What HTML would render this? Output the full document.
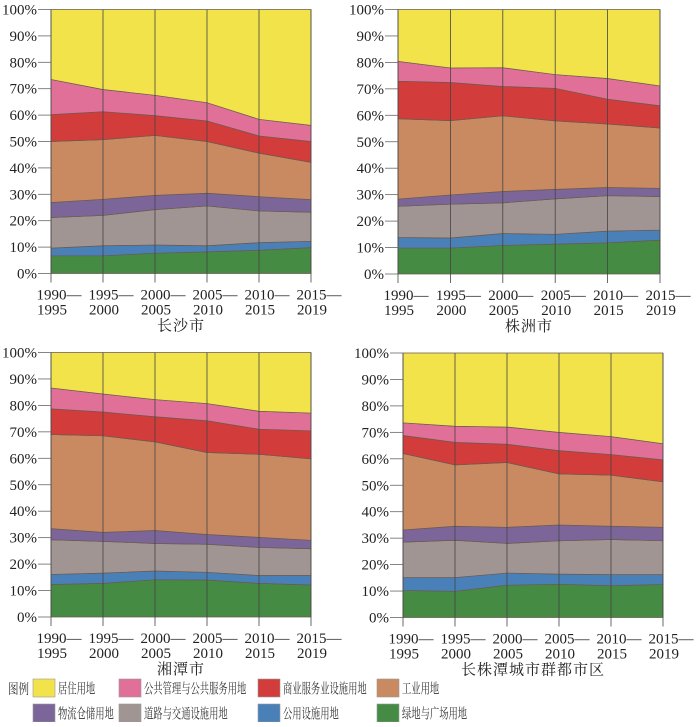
<!DOCTYPE html>
<html><head><meta charset="utf-8">
<style>
body{margin:0;background:#fff;}
svg text{font-family:"Liberation Serif","Noto Serif CJK SC",serif;}
</style></head>
<body>
<svg id="c" width="700" height="722" xmlns="http://www.w3.org/2000/svg"></svg>
<script>
const periods=[["1990—","1995"],["1995—","2000"],["2000—","2005"],["2005—","2010"],["2010—","2015"],["2015—","2019"]];
const yTicks=["0%","10%","20%","30%","40%","50%","60%","70%","80%","90%","100%"];
const catNames=["绿地与广场用地","公用设施用地","道路与交通设施用地","物流仓储用地","工业用地","商业服务业设施用地","公共管理与公共服务用地","居住用地"];
const catColors=["#468b44","#4a80b8","#a09592","#7c6699","#c98a62","#d23c3a","#e07098","#f2e34a"];
const cityNames=["长沙市","株洲市","湘潭市","长株潭城市群都市区"];
// shares (%) per category bottom->top (居住 = remainder)
const changsha=[[6.7,6.7,7.7,8.2,8.8,9.8],[2.9,3.8,3.1,2.3,2.9,2.4],[11.6,11.5,13.4,15.1,12.0,11.0],[5.7,6.1,5.4,4.8,5.4,4.8],[23.1,22.6,22.7,19.6,16.5,14.1],[10.2,10.6,7.5,7.8,6.5,7.9],[13.3,8.4,7.7,6.9,6.3,6.1]];
const zhuzhou=[[9.8,9.8,10.8,11.3,11.8,12.8],[4.0,3.8,4.5,3.7,4.4,3.8],[11.8,12.8,11.6,13.4,13.4,12.7],[2.7,3.5,4.3,3.6,3.1,3.1],[30.4,28.1,28.6,25.9,24.0,22.8],[14.2,14.4,11.1,12.3,9.4,8.4],[7.5,5.5,7.1,5.2,7.8,7.5]];
const xiangtan=[[12.3,12.7,14.1,14.0,12.7,12.1],[3.8,3.9,3.3,2.9,3.0,3.6],[13.1,12.0,10.4,10.6,10.6,10.1],[4.2,3.4,4.9,3.7,3.8,3.2],[35.6,36.5,33.5,31.0,31.4,30.8],[9.7,9.0,9.5,12.0,9.5,10.6],[7.9,6.8,6.5,6.5,6.8,6.7]];
const metro=[[10.2,9.9,12.2,12.6,12.0,12.5],[4.9,5.2,4.6,3.8,4.2,3.7],[13.4,14.1,11.2,12.6,13.3,12.8],[4.6,5.3,6.1,6.0,5.0,5.1],[28.9,23.2,24.5,19.3,19.3,17.2],[6.8,8.5,6.9,8.8,7.8,8.3],[4.8,6.1,6.5,6.9,6.8,6.1]];
const datasets=[changsha,zhuzhou,xiangtan,metro];
const panels=[{x0:51,x1:311,y0:273.5,y1:9.5},{x0:398,x1:660,y0:274,y1:9.5},{x0:51,x1:311,y0:617,y1:352.5},{x0:403,x1:663,y0:617.5,y1:353}];
const NS="http://www.w3.org/2000/svg";
const svg=document.getElementById('c');
function mk(t,a,p){const e=document.createElementNS(NS,t);for(const k in a)e.setAttribute(k,a[k]);(p||svg).appendChild(e);return e;}
panels.forEach((P,pi)=>{
  const g=mk('g',{});
  
  
  const data=datasets[pi];
  const n=periods.length;
  const xs=i=>P.x0+(P.x1-P.x0)*i/(n-1);
  const ys=v=>P.y0+(P.y1-P.y0)*v/100;
  let cum=new Array(n).fill(0);
  for(let c=0;c<8;c++){
    const lower=cum.slice();
    const upper=cum.map((v,i)=>c<7?v+data[c][i]:100);
    let d='';
    for(let i=0;i<n;i++)d+=(i?'L':'M')+xs(i)+','+ys(upper[i]);
    for(let i=n-1;i>=0;i--)d+='L'+xs(i)+','+ys(lower[i]);
    const a=mk('path',{d:d+'Z',fill:catColors[c],stroke:'#6b5a50','stroke-width':0.7},g);
    
    
    cum=upper;
  }
  for(let i=0;i<n;i++){
    const l=mk('line',{x1:xs(i),x2:xs(i),y1:P.y1,y2:P.y0+9,stroke:'#444','stroke-width':0.8},g);
    
    
    const t=mk('text',{x:xs(i)+8,y:P.y0+26,'font-size':15,'text-anchor':'middle',fill:'#222'},g);
    t.textContent=periods[i][0];
    
    
    const t2=mk('text',{x:xs(i)+1,y:P.y0+41,'font-size':15,'text-anchor':'middle',fill:'#222'},g);
    t2.textContent=periods[i][1];
    
    
  }
  yTicks.forEach((lab,k)=>{
    const y=ys(k*10);
    const l=mk('line',{x1:P.x0-13,x2:P.x0,y1:y,y2:y,stroke:'#666','stroke-width':0.8},g);
    
    
    const t=mk('text',{x:P.x0-14,y:y+5,'font-size':15,'text-anchor':'end',fill:'#222'},g);
    t.textContent=lab;
    
    
  });
  const ct=mk('text',{x:(P.x0+P.x1)/2,y:P.y0+57,'font-size':15,'text-anchor':'middle',fill:'#222','letter-spacing':1},g);
  ct.textContent=cityNames[pi];
  
  
});
// legend
const lg=mk('g',{});


const lt=mk('text',{x:8,y:694,'font-size':14,fill:'#333',textLength:21,lengthAdjust:'spacingAndGlyphs'},lg);
lt.textContent='图例';


const order=[7,6,5,4,3,2,1,0];
const colX=[33,119,258,377];
order.forEach((c,k)=>{
  const x=colX[k%4],y=k<4?679:704;
  const r=mk('rect',{x:x,y:y,width:22,height:18,fill:catColors[c],stroke:'#999','stroke-width':0.6},lg);
  
  
  const name=catNames[c];
  const t=mk('text',{x:x+25,y:y+14.5,'font-size':14,fill:'#333',textLength:name.length*9.3,lengthAdjust:'spacingAndGlyphs'},lg);
  t.textContent=name;
  
  
});
</script>
</body></html>
